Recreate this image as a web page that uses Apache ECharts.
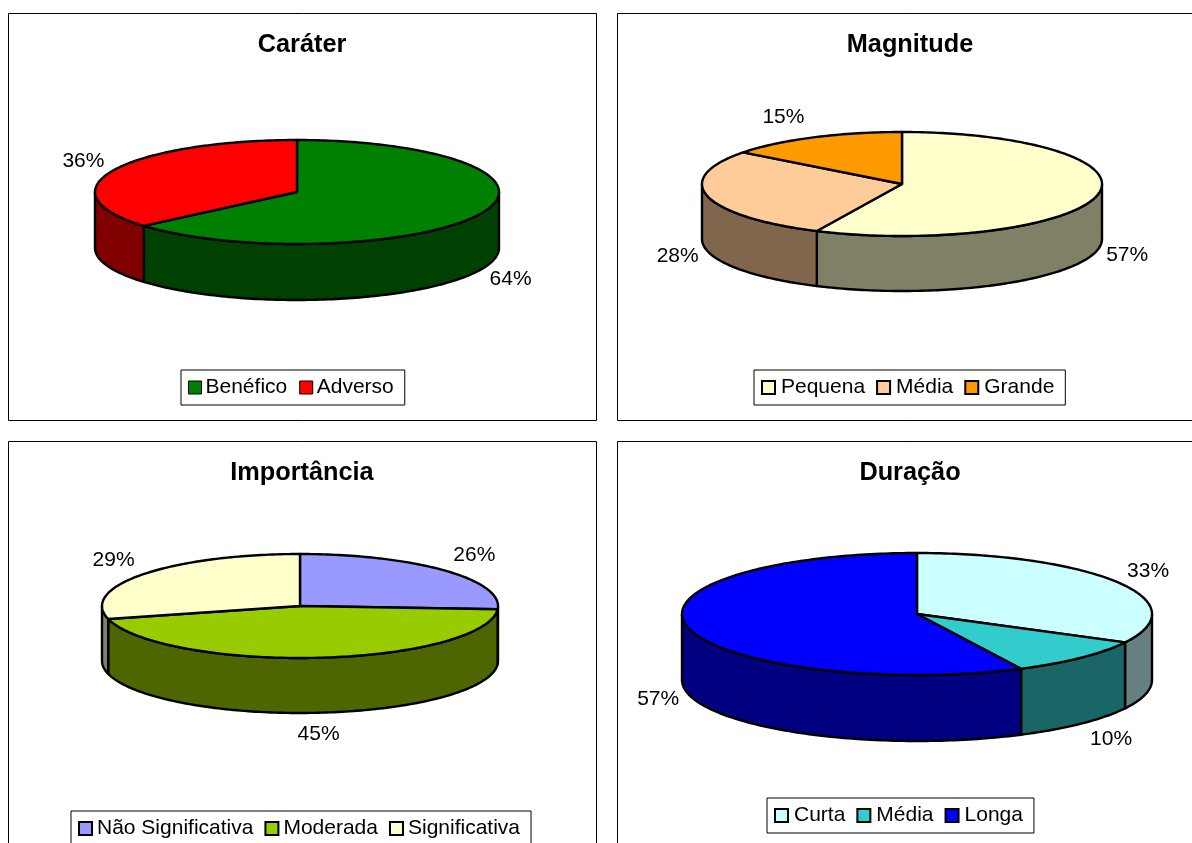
<!DOCTYPE html>
<html>
<head>
<meta charset="utf-8">
<script src="https://cdn.jsdelivr.net/npm/echarts@6/dist/echarts.min.js"></script>
<style>
html, body { margin: 0; padding: 0; background: #fff; }
#main { width: 1192px; height: 843px; }
</style>
</head>
<body>
<div id="main"></div>
<script>
// dados
var titles = ['Caráter', 'Magnitude', 'Importância', 'Duração'];

var carater_names = ['Benéfico', 'Adverso'];
var carater_values = [63.7, 36.3];

var magnitude_names = ['Pequena', 'Média', 'Grande'];
var magnitude_values = [57, 28.4, 14.6];

var importancia_names = ['Não Significativa', 'Moderada', 'Significativa'];
var importancia_values = [26, 45, 29];

var duracao_names = ['Curta', 'Média', 'Longa'];
var duracao_values = [32.7, 10, 57.3];

var all_names = [carater_names, magnitude_names, importancia_names, duracao_names];
var all_values = [carater_values, magnitude_values, importancia_values, duracao_values];

// cores e posicoes de cada painel
var all_colors = [
    ['#008000', '#ff0000'],
    ['#ffffcc', '#ffcc99', '#ff9900'],
    ['#9999ff', '#99cc00', '#ffffcc'],
    ['#ccffff', '#33cccc', '#0000ff']
];
var panels = [
    { x: 8.5, y: 13.5, w: 588, h: 407, cx: 297, cy: 192, rx: 202, ry: 52, depth: 56, titleX: 302, titleY: 33, legendX: 181, legendY: 370, padL: 7, padR: 11, gap: 12, textPad: -1, swatch: 1 },
    { x: 617.5, y: 13.5, w: 640, h: 407, cx: 902, cy: 184, rx: 200, ry: 52, depth: 55, titleX: 910, titleY: 33, legendX: 754, legendY: 370, padL: 7, padR: 11, gap: 11, textPad: 1, swatch: 2 },
    { x: 8.5, y: 441.5, w: 588, h: 460, cx: 300, cy: 606, rx: 198, ry: 52, depth: 55, titleX: 302, titleY: 461, legendX: 71, legendY: 811, padL: 7, padR: 11, gap: 11, textPad: 0, swatch: 2 },
    { x: 617.5, y: 441.5, w: 640, h: 460, cx: 917, cy: 614, rx: 235, ry: 61, depth: 66, titleX: 910, titleY: 461, legendX: 767, legendY: 798, padL: 7, padR: 11, gap: 11, textPad: 1, swatch: 2 }
];
var font = '"Liberation Sans", Arial, sans-serif';

function halfColor(hex) {
    var n = parseInt(hex.slice(1), 16);
    return 'rgb(' + (n >> 16 & 255) / 2 + ',' + (n >> 8 & 255) / 2 + ',' + (n & 255) / 2 + ')';
}

// ponto na elipse, angulo a partir do topo no sentido horario
function ellipsePoint(p, ang, dy) {
    return [p.cx + Math.sin(ang) * p.rx, p.cy - Math.cos(ang) * p.ry + dy];
}

function arc(p, a0, a1, dy) {
    var pts = [];
    var n = Math.max(2, Math.ceil((a1 - a0) / 0.02));
    for (var i = 0; i <= n; i++) {
        pts.push(ellipsePoint(p, a0 + (a1 - a0) * i / n, dy));
    }
    return pts;
}

function makeRender(p, start, total, color) {
    return function (params, api) {
        var value = api.value(0);
        var a0 = start / total * Math.PI * 2;
        var a1 = (start + value) / total * Math.PI * 2;
        var children = [];

        // parede lateral, so a parte da frente aparece
        var w0 = Math.max(a0, Math.PI / 2);
        var w1 = Math.min(a1, Math.PI * 1.5);
        if (w1 > w0) {
            children.push({
                type: 'polygon',
                z2: 1,
                shape: { points: arc(p, w0, w1, 0).concat(arc(p, w0, w1, p.depth).reverse()) },
                style: { fill: halfColor(color), stroke: '#000', lineWidth: 2.4, lineJoin: 'round' }
            });
        }

        children.push({
            type: 'polygon',
            z2: 2,
            shape: { points: [[p.cx, p.cy]].concat(arc(p, a0, a1, 0)) },
            style: { fill: color, stroke: '#000', lineWidth: 2.4, lineJoin: 'round' }
        });

        // rotulo fora da fatia
        var mid = (a0 + a1) / 2;
        var s = Math.sin(mid), c = Math.cos(mid);
        var pos = ellipsePoint(p, mid, c < 0 ? p.depth : 0);
        children.push({
            type: 'text',
            z2: 3,
            style: {
                x: pos[0] + (Math.abs(s) < 0.2 ? 0 : (s > 0 ? 30 : -30)),
                y: pos[1] - 22 * c,
                text: Math.round(value / total * 100) + '%',
                fill: '#000',
                font: '21px ' + font,
                align: 'center',
                verticalAlign: 'middle'
            }
        });
        return { type: 'group', children: children };
    };
}

var series = [];
var legends = [];
var titleList = [];
var frames = [];

panels.forEach(function (p, k) {
    var names = all_names[k], values = all_values[k], colors = all_colors[k];
    var total = values.reduce(function (a, b) { return a + b; }, 0);
    var start = 0;
    names.forEach(function (name, i) {
        series.push({
            type: 'custom',
            name: name,
            coordinateSystem: 'none',
            animation: false,
            silent: true,
            itemStyle: { color: colors[i] },
            renderItem: makeRender(p, start, total, colors[i]),
            data: [[values[i]]]
        });
        start += values[i];
    });
    legends.push({
        left: p.legendX,
        top: p.legendY,
        orient: 'horizontal',
        padding: [7, p.padR, 7, p.padL],
        itemGap: p.gap,
        itemWidth: 13,
        itemHeight: 13,
        icon: 'rect',
        selectedMode: false,
        borderColor: '#000',
        borderWidth: 1,
        backgroundColor: '#fff',
        textStyle: { fontSize: 21, fontFamily: font, color: '#000', padding: [0, 0, 0, p.textPad] },
        data: names.map(function (name, i) {
            return { name: name, itemStyle: { color: colors[i], borderColor: '#000', borderWidth: p.swatch } };
        })
    });
    titleList.push({
        text: titles[k],
        left: p.titleX,
        top: p.titleY,
        textAlign: 'center',
        padding: 0,
        textStyle: { fontSize: 25.3, fontWeight: 'bold', fontFamily: font, color: '#000' }
    });
    frames.push({
        type: 'rect',
        silent: true,
        z: -1,
        shape: { x: p.x, y: p.y, width: p.w, height: p.h },
        style: { fill: '#fff', stroke: '#000', lineWidth: 1 }
    });
});

var myChart = echarts.init(document.getElementById('main'));
var option = {
    backgroundColor: '#fff',
    animation: false,
    title: titleList,
    legend: legends,
    graphic: frames,
    series: series
};
myChart.setOption(option);
</script>
</body>
</html>
